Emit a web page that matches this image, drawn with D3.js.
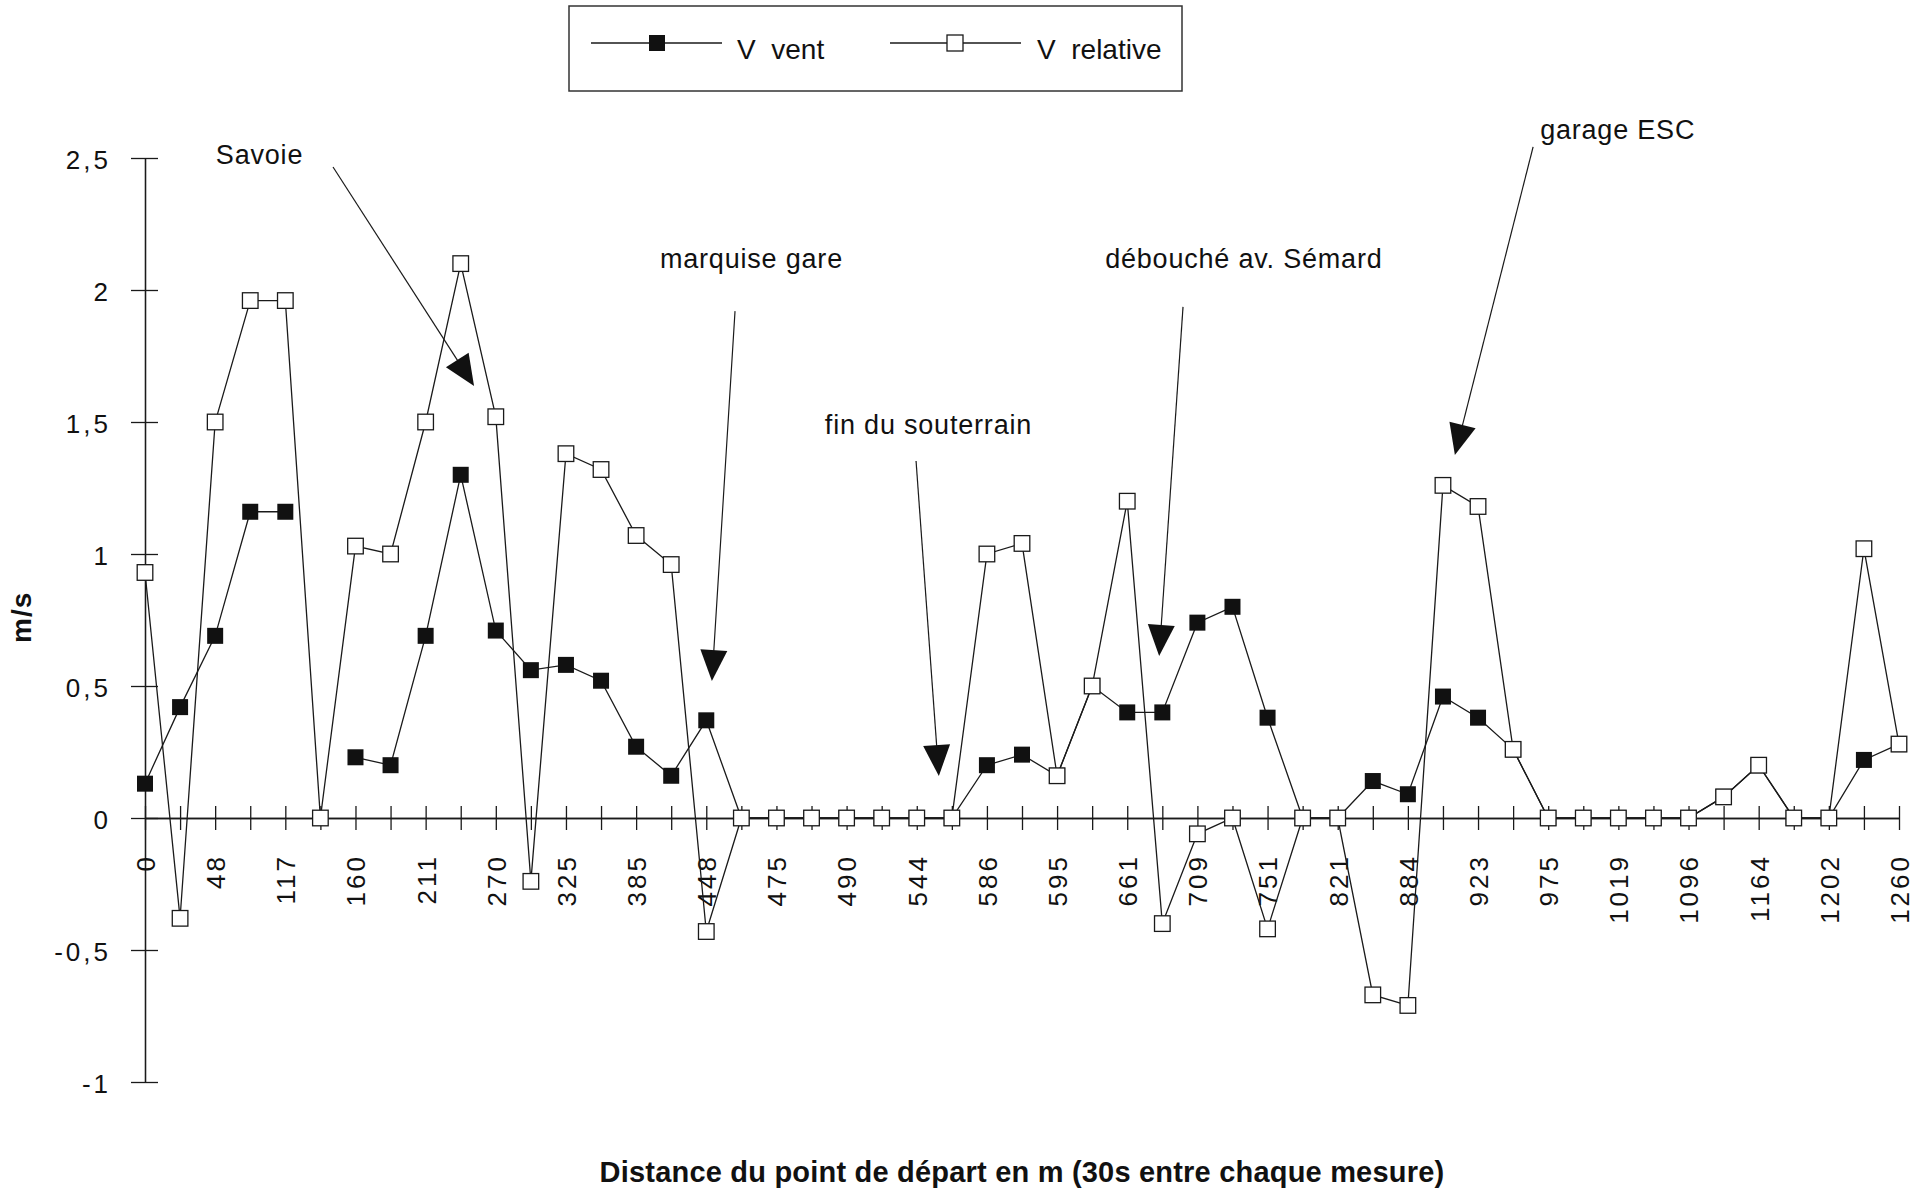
<!DOCTYPE html>
<html><head><meta charset="utf-8">
<script src="https://cdn.jsdelivr.net/npm/d3@7"></script>
<style>
html,body{margin:0;padding:0;background:#fff;}
svg{display:block;font-family:"Liberation Sans",Arial,Helvetica,sans-serif;}
text{white-space:pre;}
</style></head><body>
<svg id="chart" width="1927" height="1190"></svg>
<script>
// measurement index (one measure every 30 s)
const measurements = [0,1,2,3,4,5,6,7,8,9,10,11,12,13,14,15,16,17,18,19,20,21,22,23,24,25,26,27,28,29,30,31,32,33,34,35,36,37,38,39,40,41,42,43,44,45,46,47,48,49,50];
// distance labels shown on every other measurement
const distanceLabels = ["0","48","117","160","211","270","325","385","448","475","490","544","586","595","661","709","751","821","884","923","975","1019","1096","1164","1202","1260"];
const vVent = [0.13,0.42,0.69,1.16,1.16,null,0.23,0.20,0.69,1.30,0.71,0.56,0.58,0.52,0.27,0.16,0.37,0,0,0,0,0,0,0,0.20,0.24,0.16,0.50,0.40,0.40,0.74,0.80,0.38,0,0,0.14,0.09,0.46,0.38,0.26,0,0,0,0,0,0.08,0.20,0,0,0.22,0.28];
const vRelative = [0.93,-0.38,1.50,1.96,1.96,0,1.03,1.00,1.50,2.10,1.52,-0.24,1.38,1.32,1.07,0.96,-0.43,0,0,0,0,0,0,0,1.00,1.04,0.16,0.50,1.20,-0.40,-0.06,0,-0.42,0,0,-0.67,-0.71,1.26,1.18,0.26,0,0,0,0,0,0.08,0.20,0,0,1.02,0.28];
const yTicks = [-1,-0.5,0,0.5,1,1.5,2,2.5];
const seriesNames = ["V  vent","V  relative"];
const annotationLabels = ["Savoie","marquise gare","fin du souterrain","débouché av. Sémard","garage ESC"];
// annotation anchors in data units (measurement index, m/s)
const annTextPos = [[2.02,2.477],[14.68,2.083],[19.38,1.455],[27.37,2.083],[39.77,2.572]];
const annLineStart = [[5.36,2.466],[16.82,1.920],[21.98,1.352],[29.59,1.936],[39.57,2.542]];
const annTip = [[9.38,1.636],[16.16,0.519],[22.63,0.159],[28.91,0.614],[37.34,1.375]];

const svg = d3.select("#chart");
const plotLeft = 145, plotRight = 1899, plotTop = 158, plotBottom = 1082;

const x = d3.scalePoint().domain(measurements).range([plotLeft, plotRight]).padding(0);
const xl = d3.scaleLinear().domain([0, measurements.length - 1]).range([plotLeft, plotRight]);
const y = d3.scaleLinear().domain([-1, 2.5]).range([plotBottom, plotTop]);

const ink = "#1a1a1a";
const fmt = d => String(d).replace(".", ",");

// ---- Y axis (ticks crossing the axis line)
const yAxisL = svg.append("g").attr("transform", `translate(${plotLeft},0)`)
  .call(d3.axisLeft(y).tickValues(yTicks).tickSizeInner(14).tickSizeOuter(0).tickPadding(20).tickFormat(fmt));
const yAxisR = svg.append("g").attr("transform", `translate(${plotLeft},0)`)
  .call(d3.axisRight(y).tickValues(yTicks).tickSizeInner(13).tickSizeOuter(0).tickFormat(""));
[yAxisL, yAxisR].forEach(g => {
  g.selectAll("path.domain").attr("stroke", ink).attr("stroke-width", 1.3);
  g.selectAll(".tick line").attr("stroke", ink).attr("stroke-width", 1.3);
});
yAxisL.selectAll(".tick text").attr("font-size", 26).attr("letter-spacing", 3)
  .attr("fill", "#111").attr("font-family", "'Liberation Sans',Arial,sans-serif").attr("dy", "0.42em");

// ---- X axis at y = 0
const y0 = y(0);
const xAxisB = svg.append("g").attr("transform", `translate(0,${y0})`)
  .call(d3.axisBottom(x).tickSizeInner(12).tickSizeOuter(0).tickFormat(d => d % 2 === 0 ? distanceLabels[d / 2] : ""));
const xAxisT = svg.append("g").attr("transform", `translate(0,${y0})`)
  .call(d3.axisTop(x).tickSizeInner(12).tickSizeOuter(0).tickFormat(""));
[xAxisB, xAxisT].forEach(g => {
  g.selectAll("path.domain").attr("stroke", ink).attr("stroke-width", 1.3);
  g.selectAll(".tick line").attr("stroke", ink).attr("stroke-width", 1.3);
});
xAxisB.selectAll(".tick text")
  .attr("transform", "rotate(-90)")
  .attr("text-anchor", "end")
  .attr("x", -36).attr("y", 0).attr("dy", "0.36em")
  .attr("font-size", 26).attr("letter-spacing", 3).attr("fill", "#111")
  .attr("font-family", "'Liberation Sans',Arial,sans-serif");

// ---- Lines
const ventData = measurements.map((m, i) => ({m, v: vVent[i]}));
const relData = measurements.map((m, i) => ({m, v: vRelative[i]}));
const line = d3.line().defined(d => d.v !== null).x(d => x(d.m)).y(d => y(d.v));

svg.append("path").datum(ventData).attr("d", line)
  .attr("fill", "none").attr("stroke", ink).attr("stroke-width", 1.3);
svg.append("path").datum(relData).attr("d", line)
  .attr("fill", "none").attr("stroke", ink).attr("stroke-width", 1.3);

const S = 16;
svg.append("g").selectAll("rect").data(ventData.filter(d => d.v !== null)).join("rect")
  .attr("x", d => x(d.m) - S / 2).attr("y", d => y(d.v) - S / 2)
  .attr("width", S).attr("height", S).attr("fill", "#111");
svg.append("g").selectAll("rect").data(relData.filter(d => d.v !== null)).join("rect")
  .attr("x", d => x(d.m) - S / 2 + 0.2).attr("y", d => y(d.v) - S / 2 + 0.2)
  .attr("width", S - 0.4).attr("height", S - 0.4)
  .attr("fill", "#fff").attr("stroke", ink).attr("stroke-width", 1.3);

// ---- Annotations
const ann = svg.append("g");
annotationLabels.forEach((lab, i) => {
  ann.append("text").attr("x", xl(annTextPos[i][0])).attr("y", y(annTextPos[i][1]))
    .attr("font-size", 27).attr("letter-spacing", 0.8).attr("fill", "#111").text(lab);
  const sx = xl(annLineStart[i][0]), sy = y(annLineStart[i][1]);
  const tx = xl(annTip[i][0]), ty = y(annTip[i][1]);
  const dx = tx - sx, dy = ty - sy, len = Math.hypot(dx, dy);
  const ux = dx / len, uy = dy / len;
  const L = 31, w = 13.5;
  const bx = tx - ux * L, by = ty - uy * L;
  ann.append("line").attr("x1", sx).attr("y1", sy).attr("x2", bx + ux * 4).attr("y2", by + uy * 4)
    .attr("stroke", ink).attr("stroke-width", 1.2);
  ann.append("path")
    .attr("d", `M${tx},${ty}L${bx - uy * w},${by + ux * w}L${bx + uy * w},${by - ux * w}Z`)
    .attr("fill", "#111");
});

// ---- Axis titles
svg.append("text").attr("x", (plotLeft + plotRight) / 2).attr("y", 1182)
  .attr("text-anchor", "middle").attr("font-size", 29).attr("letter-spacing", 0.2)
  .attr("font-weight", "bold").attr("fill", "#111")
  .text("Distance du point de départ en m (30s entre chaque mesure)");
svg.append("text").attr("transform", `translate(31,${y(0.76)}) rotate(-90)`)
  .attr("text-anchor", "middle").attr("font-size", 28).attr("font-weight", "bold").attr("fill", "#111")
  .attr("letter-spacing", 1).text("m/s");

// ---- Legend
const lg = svg.append("g").attr("transform", "translate(569,6)");
lg.append("rect").attr("x", 0).attr("y", 0).attr("width", 613).attr("height", 85)
  .attr("fill", "#fff").attr("stroke", "#333").attr("stroke-width", 1.5);
const items = [{x0: 22, x1: 153, mx: 88, tx: 168, fill: "#111"}, {x0: 321, x1: 452, mx: 386, tx: 468, fill: "#fff"}];
items.forEach((it, i) => {
  lg.append("line").attr("x1", it.x0).attr("x2", it.x1).attr("y1", 37).attr("y2", 37)
    .attr("stroke", ink).attr("stroke-width", 1.3);
  lg.append("rect").attr("x", it.mx - S / 2).attr("y", 37 - S / 2).attr("width", S).attr("height", S)
    .attr("fill", it.fill).attr("stroke", ink).attr("stroke-width", i === 0 ? 0 : 1.3);
  lg.append("text").attr("x", it.tx).attr("y", 53).attr("font-size", 28).attr("fill", "#111").text(seriesNames[i]);
});
</script>
</body></html>
